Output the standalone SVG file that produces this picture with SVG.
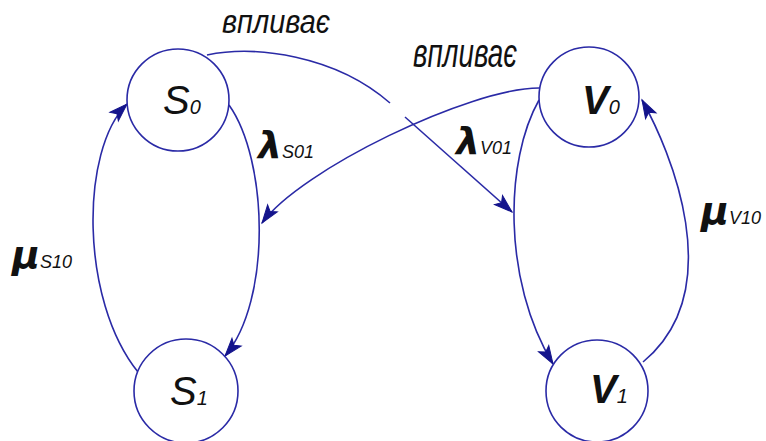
<svg xmlns="http://www.w3.org/2000/svg" width="766" height="441" viewBox="0 0 766 441">
<style>
.c{fill:#fff;stroke:#2a2aa6;stroke-width:1.6}
.e{fill:none;stroke:#2a2aa6;stroke-width:1.6}
.n{font-family:"Liberation Sans",Arial,sans-serif;font-style:italic;fill:#111}
.lbl{font-family:"Liberation Sans",Arial,sans-serif;font-style:italic;fill:#111}
.g{font-family:"DejaVu Sans","Liberation Sans",sans-serif;font-weight:bold;font-style:italic;fill:#111}
</style>
<defs>
<marker id="ar" markerUnits="userSpaceOnUse" markerWidth="20" markerHeight="14" refX="18" refY="6" orient="auto" overflow="visible">
<path d="M0,0 L18,6 L0,12 L4,6 z" fill="#14148c" stroke="#14148c" stroke-width="1"/>
</marker>
</defs>
<rect width="766" height="441" fill="#fff"/>
<g id="connectors">
<path id="lS01" class="e" d="M229,105 C268,160 272,300 225,356" marker-end="url(#ar)"/>
<path id="mS10" class="e" d="M138,372 C80,300 80,150 127,104" marker-end="url(#ar)"/>
<path id="lV01" class="e" d="M539,100 C505,160 502,280 553,364" marker-end="url(#ar)"/>
<path id="mV10" class="e" d="M643,362 C730,290 670,150 642,100" marker-end="url(#ar)"/>
<path id="inf1a" class="e" d="M207,55 C255,45 335,55 390,103"/>
<path id="inf1b" class="e" d="M405,117 L512,212" marker-end="url(#ar)"/>
<path id="inf2" class="e" d="M539,88 C470,88 300,170 262,223" marker-end="url(#ar)"/>
</g>
<g id="S0"><circle class="c" cx="178" cy="100" r="51"/><text class="n" x="163" y="114" font-size="40">S<tspan font-size="20">0</tspan></text></g>
<g id="S1"><circle class="c" cx="186" cy="391" r="52"/><text class="n" x="170" y="405" font-size="40">S<tspan font-size="20">1</tspan></text></g>
<g id="V0"><circle class="c" cx="589" cy="97" r="50"/><text class="n" x="582" y="114" font-size="40" font-weight="bold">V<tspan font-size="20" font-weight="normal">0</tspan></text></g>
<g id="V1"><circle class="c" cx="597" cy="391" r="51"/><text class="n" x="590" y="403" font-size="40" font-weight="bold">V<tspan font-size="20" font-weight="normal">1</tspan></text></g>
<g id="labels">
<text class="g" x="258" y="158" font-size="38">λ<tspan class="n" font-weight="normal" font-size="18">S01</tspan></text>
<text class="g" x="456" y="154" font-size="38">λ<tspan class="n" font-weight="normal" font-size="18">V01</tspan></text>
<text class="g" x="12" y="268" font-size="38">μ<tspan class="n" font-weight="normal" font-size="18">S10</tspan></text>
<text class="g" x="701" y="224" font-size="38">μ<tspan class="n" font-weight="normal" font-size="18">V10</tspan></text>
<text class="lbl" x="222" y="33" font-size="34" textLength="108" lengthAdjust="spacingAndGlyphs">впливає</text>
<text class="lbl" x="413" y="67" font-size="40" textLength="104" lengthAdjust="spacingAndGlyphs">впливає</text>
</g>
</svg>
